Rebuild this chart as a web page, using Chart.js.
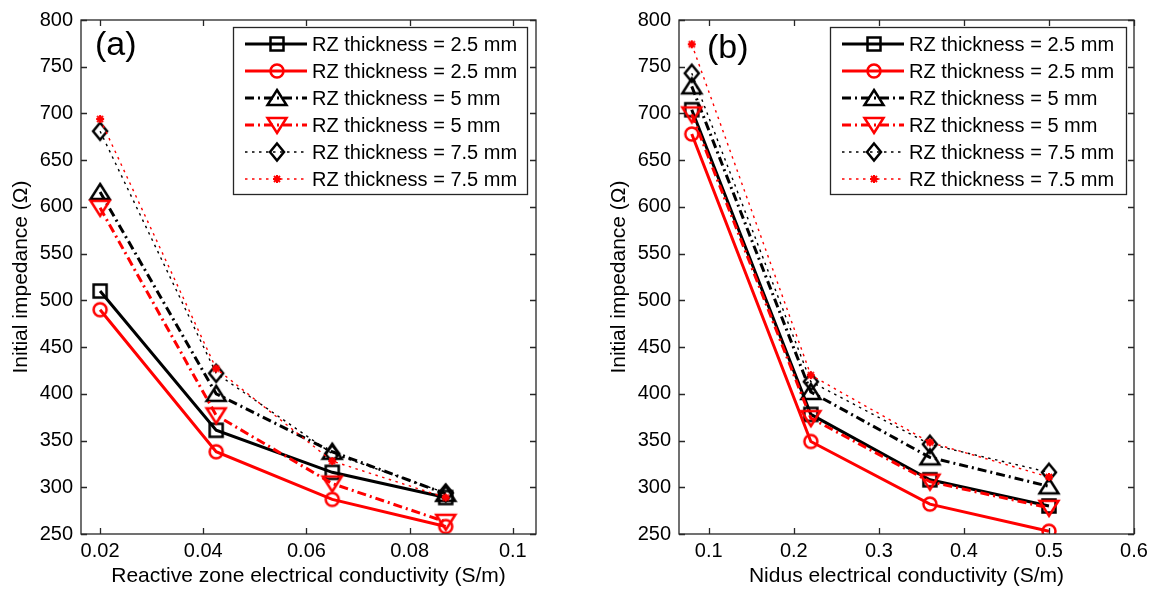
<!DOCTYPE html>
<html>
<head>
<meta charset="utf-8">
<script src="https://cdn.jsdelivr.net/npm/chart.js@4.4.0/dist/chart.umd.min.js"></script>
<style>
  html, body { margin: 0; padding: 0; background: #fff; }
  #wrap { position: relative; width: 1158px; height: 592px; }
  canvas { position: absolute; top: 0; }
  #chartA { left: 0; }
  #chartB { left: 598px; }
</style>
</head>
<body>
<div id="wrap">
  <canvas id="chartA" width="598" height="592"></canvas>
  <canvas id="chartB" width="560" height="592"></canvas>
</div>
<script>
var FONT = "'Liberation Sans', Arial, Helvetica, sans-serif";

// legend labels (same for both panels)
var seriesNames = [
  "RZ thickness = 2.5 mm",
  "RZ thickness = 2.5 mm",
  "RZ thickness = 5 mm",
  "RZ thickness = 5 mm",
  "RZ thickness = 7.5 mm",
  "RZ thickness = 7.5 mm"
];

var yTicks = [250, 300, 350, 400, 450, 500, 550, 600, 650, 700, 750, 800];

// panel (a): reactive zone conductivity
var xA = [0.02, 0.0425, 0.065, 0.087];
var xTicksA = [0.02, 0.04, 0.06, 0.08, 0.1];
var xTickLabelsA = ["0.02", "0.04", "0.06", "0.08", "0.1"];
var a_rz25_black = [510, 361, 316, 289];
var a_rz25_red = [490, 338, 287, 258];
var a_rz5_black = [616, 400, 338, 293];
var a_rz5_red = [599, 377, 304, 263];
var a_rz75_black = [681, 422, 336, 294];
var a_rz75_red = [694, 427, 328, 289];

// panel (b): nidus conductivity
var xB = [0.08, 0.22, 0.36, 0.5];
var xTicksB = [0.1, 0.2, 0.3, 0.4, 0.5, 0.6];
var xTickLabelsB = ["0.1", "0.2", "0.3", "0.4", "0.5", "0.6"];
var b_rz25_black = [704, 378, 308, 280];
var b_rz25_red = [678, 349, 282, 253];
var b_rz5_black = [729, 402, 332, 301];
var b_rz5_red = [699, 374, 306, 278];
var b_rz75_black = [743, 413, 346, 316];
var b_rz75_red = [774, 420, 348, 311];

// marker images (open MATLAB style markers)
function makeMarker(kind, color) {
  var c = document.createElement("canvas");
  c.width = 24;
  c.height = 24;
  var g = c.getContext("2d");
  var m = 12;
  g.strokeStyle = color;
  g.lineWidth = 2.5;
  g.beginPath();
  if (kind === "square") {
    g.rect(m - 6.5, m - 6.5, 13, 13);
  } else if (kind === "circle") {
    g.arc(m, m, 6.5, 0, Math.PI * 2);
  } else if (kind === "up") {
    g.moveTo(m, m - 8);
    g.lineTo(m + 9.5, m + 7);
    g.lineTo(m - 9.5, m + 7);
    g.closePath();
  } else if (kind === "down") {
    g.moveTo(m, m + 8);
    g.lineTo(m + 9.5, m - 7);
    g.lineTo(m - 9.5, m - 7);
    g.closePath();
  } else if (kind === "diamond") {
    g.moveTo(m, m - 8.5);
    g.lineTo(m + 7, m);
    g.lineTo(m, m + 8.5);
    g.lineTo(m - 7, m);
    g.closePath();
  } else if (kind === "star") {
    g.lineWidth = 2;
    var r = 4;
    g.moveTo(m - r, m); g.lineTo(m + r, m);
    g.moveTo(m, m - r); g.lineTo(m, m + r);
    g.moveTo(m - r * 0.75, m - r * 0.75); g.lineTo(m + r * 0.75, m + r * 0.75);
    g.moveTo(m - r * 0.75, m + r * 0.75); g.lineTo(m + r * 0.75, m - r * 0.75);
  }
  g.stroke();
  return c;
}

var styles = [
  { color: "#000000", width: 3, dash: [], marker: makeMarker("square", "#000000") },
  { color: "#ff0000", width: 3, dash: [], marker: makeMarker("circle", "#ff0000") },
  { color: "#000000", width: 3, dash: [9, 4, 2, 4], marker: makeMarker("up", "#000000") },
  { color: "#ff0000", width: 3, dash: [9, 4, 2, 4], marker: makeMarker("down", "#ff0000") },
  { color: "#000000", width: 1.4, dash: [2.5, 4.5], marker: makeMarker("diamond", "#000000") },
  { color: "#ff0000", width: 1.4, dash: [2.5, 4.5], marker: makeMarker("star", "#ff0000") }
];

function buildDatasets(xs, series) {
  return series.map(function(vals, i) {
    var st = styles[i];
    return {
      label: seriesNames[i],
      data: xs.map(function(x, k) { return { x: x, y: vals[k] }; }),
      borderColor: st.color,
      borderWidth: st.width,
      borderDash: st.dash,
      pointStyle: st.marker,
      pointRadius: 8,
      pointHoverRadius: 8,
      fill: false,
      tension: 0,
      order: series.length - i
    };
  });
}

var framePlugin = {
  id: "frame",
  afterDraw: function(chart, args, opts) {
    var ctx = chart.ctx;
    var a = chart.chartArea;
    var xs = chart.scales.x;
    var ys = chart.scales.y;
    ctx.save();
    ctx.strokeStyle = "#262626";
    ctx.lineWidth = 1.3;
    ctx.strokeRect(a.left, a.top, a.right - a.left, a.bottom - a.top);
    ctx.beginPath();
    xs.ticks.forEach(function(t) {
      var px = Math.round(xs.getPixelForValue(t.value)) + 0.5;
      ctx.moveTo(px, a.bottom); ctx.lineTo(px, a.bottom - 6);
      ctx.moveTo(px, a.top); ctx.lineTo(px, a.top + 6);
    });
    ys.ticks.forEach(function(t) {
      var py = Math.round(ys.getPixelForValue(t.value)) + 0.5;
      ctx.moveTo(a.left, py); ctx.lineTo(a.left + 6, py);
      ctx.moveTo(a.right, py); ctx.lineTo(a.right - 6, py);
    });
    ctx.stroke();

    // panel tag
    ctx.fillStyle = "#000";
    ctx.font = "34px " + FONT;
    ctx.textBaseline = "alphabetic";
    ctx.fillText(opts.tag, a.left + opts.tagDx, opts.tagY);

    // legend box
    var L = opts.legend;
    ctx.fillStyle = "#fff";
    ctx.fillRect(L.x, L.y, L.w, L.h);
    ctx.strokeStyle = "#262626";
    ctx.lineWidth = 1.3;
    ctx.strokeRect(L.x + 0.5, L.y + 0.5, L.w, L.h);
    chart.data.datasets.forEach(function(ds, i) {
      var cy = L.y + 17 + i * 27;
      ctx.save();
      ctx.strokeStyle = ds.borderColor;
      ctx.lineWidth = ds.borderWidth;
      ctx.setLineDash(ds.borderDash || []);
      ctx.beginPath();
      ctx.moveTo(L.x + 12, cy);
      ctx.lineTo(L.x + 74, cy);
      ctx.stroke();
      ctx.restore();
      ctx.drawImage(ds.pointStyle, L.x + 44 - 12, cy - 12);
      ctx.fillStyle = "#000";
      ctx.font = "20px " + FONT;
      ctx.textBaseline = "middle";
      ctx.fillText(ds.label, L.x + 79, cy + 1);
    });
    ctx.restore();
  }
};

function makeChart(id, xs, series, xMin, xMax, xTicks, xLabels, xTitle, padRight, frameOpts) {
  return new Chart(document.getElementById(id), {
    type: "line",
    data: { datasets: buildDatasets(xs, series) },
    plugins: [framePlugin],
    options: {
      responsive: false,
      animation: false,
      events: [],
      layout: { padding: { top: 16, right: padRight, left: 0, bottom: 0 } },
      plugins: {
        legend: { display: false },
        tooltip: { enabled: false },
        frame: frameOpts
      },
      scales: {
        x: {
          type: "linear",
          min: xMin,
          max: xMax,
          afterBuildTicks: function(s) {
            s.ticks = xTicks.map(function(v) { return { value: v }; });
          },
          afterFit: function(s) { s.height = 58; },
          ticks: {
            callback: function(v, i) { return xLabels[i]; },
            font: { family: FONT, size: 20 },
            color: "#000",
            padding: 5,
            maxRotation: 0,
            autoSkip: false
          },
          grid: { display: false, drawTicks: false },
          border: { display: false },
          title: {
            display: true,
            text: xTitle,
            color: "#000",
            font: { family: FONT, size: 21 },
            padding: { top: 0, bottom: 3 }
          }
        },
        y: {
          type: "linear",
          min: 250,
          max: 800,
          afterBuildTicks: function(s) {
            s.ticks = yTicks.map(function(v) { return { value: v }; });
          },
          afterFit: function(s) { s.width = 81; },
          ticks: {
            callback: function(v) { return String(v); },
            font: { family: FONT, size: 20 },
            color: "#000",
            padding: 8,
            autoSkip: false
          },
          grid: { display: false, drawTicks: false },
          border: { display: false },
          title: {
            display: true,
            text: "Initial impedance (Ω)",
            color: "#000",
            font: { family: FONT, size: 21 },
            padding: { top: 9, bottom: 0 }
          }
        }
      }
    }
  });
}

makeChart("chartA", xA,
  [a_rz25_black, a_rz25_red, a_rz5_black, a_rz5_red, a_rz75_black, a_rz75_red],
  0.0163, 0.1045, xTicksA, xTickLabelsA,
  "Reactive zone electrical conductivity (S/m)", 62,
  { tag: "(a)", tagDx: 14, tagY: 55, legend: { x: 233, y: 27, w: 294, h: 167 } });

makeChart("chartB", xB,
  [b_rz25_black, b_rz25_red, b_rz5_black, b_rz5_red, b_rz75_black, b_rz75_red],
  0.065, 0.6, xTicksB, xTickLabelsB,
  "Nidus electrical conductivity (S/m)", 24,
  { tag: "(b)", tagDx: 28, tagY: 58, legend: { x: 232, y: 27, w: 296, h: 167 } });
</script>
</body>
</html>
